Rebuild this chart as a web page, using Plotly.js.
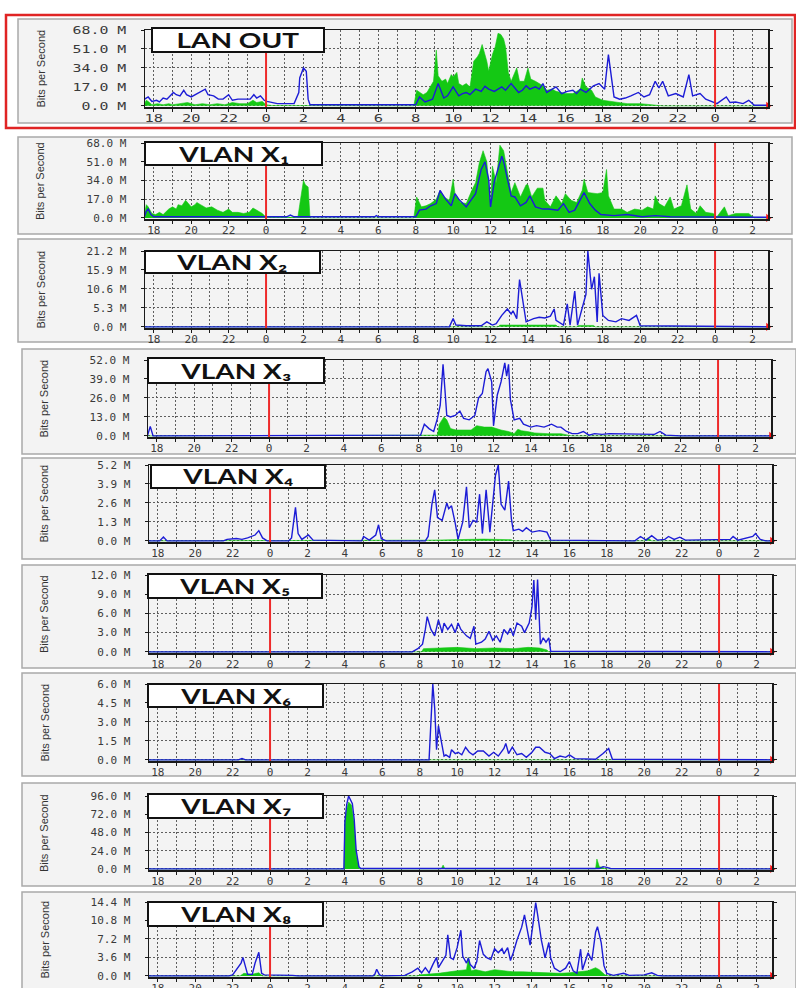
<!DOCTYPE html>
<html><head><meta charset="utf-8">
<script src="https://cdn.plot.ly/plotly-3.0.1.min.js"></script>
<style>html,body{margin:0;padding:0;background:#fff}#chart{width:796px;height:988px}</style>
</head><body><div id="chart"></div>
<script>
// ---------------- DATA ----------------
// time in hours relative to the first midnight (18 -> -6, 0 -> 0, next-day 2 -> 26)
const hourTicks = [-6,-5,-4,-3,-2,-1,0,1,2,3,4,5,6,7,8,9,10,11,12,13,14,15,16,17,18,19,20,21,22,23,24,25,26];
const labelHours = [-6,-4,-2,0,2,4,6,8,10,12,14,16,18,20,22,24,26];
const labelTexts = ['18','20','22','0','2','4','6','8','10','12','14','16','18','20','22','0','2'];
const midnights = [0, 24];
const panelTitles = ['LAN OUT','VLAN X₁','VLAN X₂','VLAN X₃','VLAN X₄','VLAN X₅','VLAN X₆','VLAN X₇','VLAN X₈'];
const yAxisTitle = 'Bits per Second';

const yTicks1 = [0,17,34,51,68],        yLabels1 = ['0.0 M','17.0 M','34.0 M','51.0 M','68.0 M'];
const yTicks2 = [0,17,34,51,68],        yLabels2 = ['0.0 M','17.0 M','34.0 M','51.0 M','68.0 M'];
const yTicks3 = [0,5.3,10.6,15.9,21.2], yLabels3 = ['0.0 M','5.3 M','10.6 M','15.9 M','21.2 M'];
const yTicks4 = [0,13,26,39,52],        yLabels4 = ['0.0 M','13.0 M','26.0 M','39.0 M','52.0 M'];
const yTicks5 = [0,1.3,2.6,3.9,5.2],    yLabels5 = ['0.0 M','1.3 M','2.6 M','3.9 M','5.2 M'];
const yTicks6 = [0,3,6,9,12],           yLabels6 = ['0.0 M','3.0 M','6.0 M','9.0 M','12.0 M'];
const yTicks7 = [0,1.5,3,4.5,6],        yLabels7 = ['0.0 M','1.5 M','3.0 M','4.5 M','6.0 M'];
const yTicks8 = [0,24,48,72,96],        yLabels8 = ['0.0 M','24.0 M','48.0 M','72.0 M','96.0 M'];
const yTicks9 = [0,3.6,7.2,10.8,14.4],  yLabels9 = ['0.0 M','3.6 M','7.2 M','10.8 M','14.4 M'];

// [hour, Mbit/s] — green = incoming, blue = outgoing
const lanOutIn = [[-6.5,2],[-6.4,5],[-6.3,4],[-6.1,1],[-5.8,2],[-5.5,1],[-5.2,2],[-5.0,1],[-4.6,2],[-4.2,3],[-3.8,1],[-3.4,2],[-3.0,1],[-2.6,2],[-2.2,1],[-1.8,3],[-1.4,2],[-1.0,2],[-0.7,5],[-0.5,3],[-0.2,4],[0,1],[0.3,0.3],[1.5,0.3],[2.0,0.5],[2.5,0],[7.9,0],[8.05,14],[8.2,12],[8.4,10],[8.6,12],[8.8,18],[8.95,22],[9.1,50],[9.2,27],[9.4,22],[9.6,24],[9.7,20],[9.9,28],[10.0,26],[10.2,30],[10.3,20],[10.5,18],[10.7,20],[10.9,17],[11.0,28],[11.1,40],[11.3,44],[11.4,47],[11.55,55],[11.7,46],[11.8,40],[11.9,31],[12.0,38],[12.1,46],[12.25,53],[12.4,65],[12.55,64],[12.7,60],[12.8,53],[12.95,30],[13.1,22],[13.3,30],[13.4,34],[13.55,22],[13.8,22],[14.0,34],[14.15,24],[14.4,22],[14.6,20],[14.8,18],[15.0,14],[15.3,15],[15.5,13],[15.7,12],[16.0,11],[16.4,11],[16.7,14],[16.8,15],[16.9,25],[17.0,20],[17.1,17],[17.4,14],[17.6,8],[18.0,5],[18.6,3.5],[19.3,2],[20.0,2],[20.8,1],[21.2,0],[26.9,0]];
const lanOutOut = [[-6.5,6],[-6.3,8],[-6.1,4],[-5.85,5],[-5.7,3.5],[-5.5,7],[-5.3,6],[-4.95,12],[-4.8,10],[-4.6,9],[-4.4,14],[-4.25,10],[-4.0,8],[-3.7,11],[-3.45,13],[-3.25,15],[-3.1,10],[-2.8,9],[-2.55,6],[-2.3,6],[-2.0,10],[-1.8,5],[-1.5,6],[-1.1,6],[-0.85,6],[-0.65,10],[-0.5,7],[-0.3,9],[-0.1,5],[0.05,4],[0.6,2],[1.1,2],[1.5,2],[1.75,12],[1.8,25],[2.0,34],[2.15,31],[2.25,6],[2.35,1],[7.9,1],[8.0,1],[8.2,8],[8.5,3.5],[8.9,6],[9.2,20],[9.5,7],[9.7,9],[10.0,17],[10.3,9],[10.5,11],[10.7,12],[10.9,10],[11.2,15],[11.5,13],[11.7,17.5],[11.9,15],[12.2,13],[12.4,15],[12.6,17],[12.8,14],[13.1,20],[13.3,16],[13.5,12],[13.7,14],[13.9,18],[14.1,15],[14.4,17],[14.6,15],[14.8,20],[15.0,12],[15.2,14],[15.5,17],[15.8,11],[16.1,13],[16.4,14],[16.6,11],[16.8,15],[17.1,12],[17.3,15],[17.5,18],[17.8,20],[18.1,15],[18.3,46],[18.4,34],[18.6,8],[18.9,6],[19.2,7],[19.5,9],[19.9,12],[20.2,8],[20.5,10],[20.8,22],[21.0,16],[21.2,22],[21.5,9],[21.9,11],[22.3,8],[22.6,28],[22.8,9],[23.2,11],[23.5,6],[23.8,4],[24.1,2],[24.6,8],[24.8,3],[25.1,3.5],[25.5,2],[25.8,5],[26.1,0.5],[26.9,0.5]];

const x1In = [[-6.5,3],[-6.4,12],[-6.3,10],[-6.1,4],[-5.9,3],[-5.7,5],[-5.5,3],[-5.2,8],[-5.0,10],[-4.8,8],[-4.7,12],[-4.5,11],[-4.3,16],[-4.1,12],[-4.0,10],[-3.8,12],[-3.7,14],[-3.5,12],[-3.3,10],[-3.2,9],[-2.9,10],[-2.6,7],[-2.3,5],[-2.0,8],[-1.8,5],[-1.5,5],[-1.2,4],[-0.9,5],[-0.7,9],[-0.5,7],[-0.2,4],[0,0.5],[1.7,0.5],[1.8,12],[1.9,25],[2.0,34],[2.1,30],[2.25,28],[2.35,0],[7.9,0],[8.05,19],[8.3,10],[8.55,11],[8.8,13],[9.1,17],[9.3,25],[9.5,19],[9.8,16],[10.0,35],[10.1,22],[10.4,14],[10.7,13],[11.0,25],[11.2,32],[11.4,50],[11.6,61],[11.8,51],[11.95,20],[12.0,10],[12.1,47],[12.3,32],[12.5,66],[12.7,61],[12.9,42],[13.1,23],[13.3,32],[13.6,19],[13.9,30],[14.0,30],[14.2,19],[14.5,27],[14.8,27],[14.9,16],[15.2,10],[15.5,20],[15.8,13],[16.0,22],[16.3,16],[16.6,14],[16.9,25],[17.0,35],[17.2,23],[17.5,22],[17.7,22],[18.0,23],[18.2,44],[18.3,20],[18.6,8],[19.0,8],[19.3,5],[19.7,8],[20.1,7],[20.4,10],[20.7,8],[20.8,20],[21.0,13],[21.3,10],[21.6,19],[21.8,8],[22.2,11],[22.5,30],[22.7,8],[23.0,4],[23.2,11],[23.5,5],[23.9,4],[24.1,1],[24.5,10],[24.7,2],[25.1,4],[25.8,4],[26.1,0],[26.9,0]];
const x1Out = [[-6.5,1],[-6.4,6],[-6.3,8],[-6.15,3],[-6.0,1],[1.1,1],[1.3,2.5],[1.5,1],[2.0,1],[5.8,1],[5.9,2],[6.0,1],[8.0,1],[8.2,7],[8.55,8],[8.8,11],[9.1,13],[9.3,25],[9.6,17],[9.9,11],[10.1,22],[10.3,17],[10.7,10],[11.0,17],[11.2,22],[11.5,44],[11.7,51],[11.9,35],[12.0,10],[12.2,33],[12.4,44],[12.6,56],[12.7,51],[12.9,35],[13.1,20],[13.3,19],[13.6,11],[13.9,14],[14.1,20],[14.4,10],[14.8,8],[15.1,8],[15.6,7],[15.9,13],[16.2,5],[16.5,7],[16.9,20],[17.0,23],[17.3,13],[17.6,7],[17.9,3],[18.6,2],[19.3,3],[20.1,1],[20.8,2],[21.6,1],[26.9,0.5]];

const x2In = [[-6.5,0],[12.4,0],[12.5,0.5],[15.5,0.5],[15.6,0],[16.6,0],[16.7,0.4],[17.5,0.4],[17.6,0],[26.9,0]];
const x2Out = [[-6.5,0],[9.8,0],[10.0,2.3],[10.15,0.5],[10.7,0.3],[11.5,0.3],[11.8,1.4],[12.1,0.5],[12.3,0.9],[12.6,3.2],[12.9,5],[13.1,3.6],[13.2,4.5],[13.4,2.3],[13.55,13.2],[13.7,8.6],[13.9,1.4],[14.3,2.3],[14.6,2.7],[14.9,2.5],[15.2,3],[15.4,5],[15.5,1.8],[15.9,0.5],[16.1,6.4],[16.25,0.5],[16.5,10],[16.65,0.5],[16.9,5.5],[17.1,9.1],[17.2,21.2],[17.25,18],[17.3,15.5],[17.35,12],[17.4,10.5],[17.55,14],[17.7,1.4],[17.8,15],[18.0,3.2],[18.3,1.8],[18.7,1.4],[19.0,2.3],[19.4,1.8],[19.8,3.2],[20.0,0.3],[26.9,0]];

const x3In = [[-6.5,0],[8.9,0],[9.0,0.5],[9.1,8],[9.35,13],[9.5,11],[9.7,5],[10.0,4],[10.4,4],[10.8,4],[11.1,7],[11.5,6],[11.9,6],[12.1,5],[12.4,4],[12.8,3],[13.1,1.5],[13.3,4.5],[13.5,3.5],[13.8,3],[14.2,2],[14.9,1.5],[15.6,1.5],[16.0,0.5],[16.2,0],[26.9,0]];
const x3Out = [[-6.5,0],[-6.35,6.5],[-6.2,0],[8.0,0],[8.1,0.5],[8.3,8],[8.55,5],[8.8,3],[9.0,12],[9.15,21],[9.3,49],[9.4,32],[9.5,14],[9.7,13],[9.95,14],[10.2,17],[10.4,12],[10.7,11],[10.9,13],[11.0,14],[11.2,26],[11.4,29],[11.6,44],[11.7,46],[11.9,37],[12.0,7],[12.2,28],[12.4,37],[12.6,50],[12.7,41],[12.8,49],[12.9,25],[13.1,11],[13.4,12],[13.6,8],[14.0,6],[14.3,7],[14.7,6],[15.1,8],[15.4,6],[15.6,6],[15.9,3],[16.2,1.5],[16.5,1.5],[16.8,3],[17.1,0.5],[17.4,1.5],[17.8,1],[18.2,1.5],[18.7,1.5],[19.2,1],[19.9,1],[20.6,1],[20.9,3],[21.2,0.5],[22,0],[26.9,0]];

const x4In = [[-6.5,0],[8.5,0],[8.6,0.05],[11.4,0.12],[12.9,0.08],[13.0,0],[20.0,0],[20.2,0.2],[20.4,0],[26.9,0]];
const x4Out = [[-6.5,0],[-5.9,0],[-5.7,0.27],[-5.5,0],[-2.5,0],[-2.3,0.1],[-1.8,0.16],[-1.5,0.1],[-1.2,0.2],[-0.8,0.4],[-0.6,0.7],[-0.4,0.2],[-0.15,0],[1.0,0],[1.15,0.2],[1.36,2.3],[1.5,0.5],[1.7,0.1],[2.05,0.4],[2.3,0.05],[4.9,0],[5.0,0.3],[5.3,0.05],[5.65,0.4],[5.8,1.1],[5.95,0.15],[6.2,0],[8.3,0],[8.45,0.3],[8.65,2.5],[8.8,3.5],[8.95,1.6],[9.2,1.4],[9.45,2.6],[9.55,2.2],[9.7,2.4],[9.9,1.2],[10.05,0.1],[10.3,1.3],[10.5,3.7],[10.65,0.9],[10.85,1.4],[11.05,1.3],[11.2,3.2],[11.35,0.5],[11.55,3.5],[11.75,0.6],[12.05,4.5],[12.2,5.2],[12.35,2.5],[12.55,2.1],[12.75,4.1],[12.9,1.5],[13.0,0.7],[13.3,0.8],[13.5,0.65],[13.7,0.9],[14.0,0.6],[14.4,0.7],[14.8,0.6],[15.0,0.05],[19.5,0],[19.8,0.3],[20.1,0.05],[20.4,0.35],[20.7,0.05],[21.1,0.1],[21.3,0.3],[21.6,0.1],[21.9,0.25],[22.2,0.05],[23.5,0.1],[24.6,0.1],[24.75,0.3],[25.0,0.05],[25.8,0.3],[25.95,0.5],[26.2,0.1],[26.5,0],[26.9,0]];

const x5In = [[-6.5,0],[8.1,0],[8.2,0.5],[9,0.6],[10,0.7],[11,0.5],[12,0.6],[13,0.5],[13.8,0.7],[14.4,0.6],[14.8,0.3],[14.9,0],[26.9,0]];
const x5Out = [[-6.5,0],[7.6,0],[7.9,0.5],[8.15,1.2],[8.3,3.5],[8.4,5.5],[8.6,3.5],[8.8,2.5],[9.0,5.0],[9.2,3],[9.3,4.5],[9.5,3.5],[9.7,4.3],[9.9,3],[10.05,4.5],[10.2,3.5],[10.5,2.5],[10.7,2.1],[10.9,4.0],[11.0,1.2],[11.3,1.5],[11.5,2],[11.7,3.2],[11.9,1.8],[12.1,2.5],[12.3,1.5],[12.5,3.5],[12.7,2.8],[12.85,3.7],[13.0,2.5],[13.2,4.5],[13.45,4],[13.6,3],[13.85,4.5],[14.0,7],[14.1,11.2],[14.2,5],[14.3,11.3],[14.45,1.2],[14.6,2.2],[14.75,1.5],[14.9,2.2],[15.0,0.1],[26.9,0]];

const x6In = [[-6.5,0],[9.2,0],[9.3,0.05],[18.2,0.05],[18.3,0],[26.9,0]];
const x6Out = [[-6.5,0],[-1.7,0],[-1.5,0.1],[-1.3,0],[8.5,0],[8.6,3.1],[8.7,6.0],[8.8,4.1],[8.9,0.8],[9.0,2.7],[9.1,1.8],[9.3,0.3],[9.4,0.4],[9.6,0.2],[9.7,0.8],[9.9,0.5],[10.05,0.6],[10.25,0.4],[10.45,1.0],[10.65,0.6],[10.85,0.4],[11.1,0.7],[11.4,0.7],[11.7,0.3],[11.95,0.6],[12.2,0.3],[12.5,0.9],[12.6,1.3],[12.75,0.5],[12.95,1.0],[13.2,0.4],[13.45,0.5],[13.7,0.2],[14.0,0.6],[14.2,1.0],[14.4,1.0],[14.7,0.6],[14.95,0.5],[15.2,0.1],[15.5,0.3],[15.8,0.2],[16.0,0.4],[16.3,0.1],[16.7,0.1],[17.4,0.05],[17.8,0.5],[18.1,0.9],[18.3,0.05],[26.9,0]];

const x7In = [[-6.5,0],[3.95,0],[4.0,60],[4.1,79],[4.2,88],[4.35,84],[4.5,60],[4.6,20],[4.75,2],[4.8,0],[9.15,0],[9.25,5],[9.35,0],[17.4,0],[17.47,13],[17.6,3],[17.8,2],[17.9,0],[26.9,0]];
const x7Out = [[-6.5,0],[3.95,0],[4.0,62],[4.1,85],[4.2,96],[4.4,86],[4.5,65],[4.6,25],[4.75,3],[4.85,0.5],[17.6,0.5],[17.8,3],[18.0,2],[18.2,0.5],[26.9,0]];

const x8In = [[-6.5,0],[-1.6,0],[-1.4,0.5],[-1.0,0.3],[-0.6,0.6],[-0.4,0],[7.9,0],[8.0,0.2],[9.0,0.5],[9.5,0.8],[10.0,1.0],[10.5,1.2],[10.6,3.6],[10.75,1.0],[11.0,1.2],[11.5,0.8],[12.0,1.2],[12.5,1.0],[13.0,0.8],[13.5,0.8],[14.0,0.7],[14.5,0.7],[15.0,0.6],[15.5,0.5],[16.0,0.6],[16.5,0.8],[17.0,1.0],[17.4,1.6],[17.6,1.2],[17.9,0.2],[18.1,0],[26.9,0]];
const x8Out = [[-6.5,0],[-2.2,0],[-2.0,0.2],[-1.75,1.5],[-1.55,2.5],[-1.45,3.6],[-1.3,1.8],[-1.2,0.3],[-0.95,0.3],[-0.8,2.5],[-0.6,4.6],[-0.45,0.5],[-0.3,0.2],[0.7,0.2],[1.2,0.1],[1.5,0],[5.5,0],[5.6,0.3],[5.7,1.3],[5.85,0.2],[6.0,0],[7.2,0.1],[7.6,0.8],[7.9,1.5],[8.1,0.6],[8.3,1.6],[8.5,0.6],[8.7,2.2],[8.9,3.6],[9.0,1.6],[9.2,2.8],[9.4,4.0],[9.5,8.0],[9.65,3.5],[9.8,3.2],[10.0,5.5],[10.2,8.9],[10.3,3.8],[10.5,2.5],[10.6,3.5],[10.7,2.2],[10.9,1.5],[11.05,2.8],[11.2,6.9],[11.4,4.2],[11.6,3.5],[11.8,3.2],[12.0,5.3],[12.2,4.5],[12.4,5.3],[12.5,4.3],[12.7,5.5],[12.85,3.0],[13.0,4.5],[13.2,7.0],[13.45,9.5],[13.6,11.9],[13.7,10.0],[13.9,6],[14.05,10],[14.2,14.3],[14.3,12],[14.5,7.0],[14.7,3.5],[14.9,6.5],[15.0,3.5],[15.2,1.5],[15.5,0.8],[15.8,1.5],[16.0,2.8],[16.2,1.0],[16.4,0.5],[16.6,5.2],[16.7,1.2],[17.0,4.5],[17.2,3.0],[17.4,8.5],[17.5,9.6],[17.7,6.5],[17.85,2],[18.0,0.5],[18.35,0.1],[18.9,0.5],[19.2,0.1],[20.0,0.2],[20.4,0.6],[20.7,0.1],[21,0],[26.9,0]];

// ---------------- LAYOUT (pixel geometry) ----------------
const W = 796, H = 988;
const X_RANGE = [-6.47, 26.83];
// [plotL, plotR, plotT, plotB, bgL, bgR, bgT, bgB, boxL, boxR, boxT, boxB, yTitleX]
const geom = [
  [145,768, 30,107, 18,792, 19,123, 152,324, 28, 52, 40],
  [145,768,143,219, 18,792,137,234, 145,322,142,165, 40],
  [145,768,251,328, 18,792,239,342, 145,320,251,273, 40],
  [148,771,360,437, 22,796,349,454, 148,324,358,383, 44],
  [149,772,465,542, 22,796,458,559, 151,325,465,488, 44],
  [149,772,575,653, 22,796,565,668, 148,322,574,598, 44],
  [149,772,684,761, 22,796,673,776, 148,323,684,707, 44],
  [149,772,796,870, 22,796,783,886, 148,323,794,818, 44],
  [149,772,902,977, 22,796,892,996, 148,323,902,926, 44]
];
const series = [[lanOutIn,lanOutOut],[x1In,x1Out],[x2In,x2Out],[x3In,x3Out],[x4In,x4Out],[x5In,x5Out],[x6In,x6Out],[x7In,x7Out],[x8In,x8Out]];
const yT = [yTicks1,yTicks2,yTicks3,yTicks4,yTicks5,yTicks6,yTicks7,yTicks8,yTicks9];
const yL = [yLabels1,yLabels2,yLabels3,yLabels4,yLabels5,yLabels6,yLabels7,yLabels8,yLabels9];

const GREEN = '#14c814', BLUE = '#1c1cd6', RED = '#ee2a2a';
const px = v => v / W, py = v => 1 - v / H;
const tickFont = {family:'DejaVu Sans Mono, monospace', size:11, color:'#3a3a3a'};
const gridStyle = {showgrid:true, gridcolor:'#5e5e5e', griddash:'2px,2px', gridwidth:1};

const data = [], shapes = [], annotations = [];
const layout = {width:W, height:H, margin:{l:0,r:0,t:0,b:0}, paper_bgcolor:'#ffffff', plot_bgcolor:'rgba(0,0,0,0)', showlegend:false};

// red frame around the first panel
shapes.push({type:'rect', xref:'paper', yref:'paper', x0:px(6), x1:px(795), y0:py(15), y1:py(128), line:{color:'#e02424', width:2.5}, layer:'below'});

geom.forEach((g, i) => {
  const k = i === 0 ? '' : String(i + 1);
  const [pl,pr,pt,pb,bl,br,bt,bb,xl,xr,xt,xb,ytx] = g;
  const ymax = yT[i][yT[i].length - 1];
  shapes.push({type:'rect', xref:'paper', yref:'paper', x0:px(bl), x1:px(br), y0:py(bb), y1:py(bt), fillcolor:'#f3f3f3', line:{color:'#a9a9a9', width:1.5}, layer:'below'});
  layout['xaxis' + k] = Object.assign({domain:[px(pl), px(pr)], anchor:'y' + k, range:X_RANGE, tickmode:'array', tickvals:labelHours, ticktext:labelTexts,
    zeroline:false, showline:true, linecolor:'#1a1a1a', linewidth:1.5, mirror:true,
    ticks:'outside', ticklen:3, tickcolor:'#1a1a1a', ticklabelstandoff:-3, tickfont:tickFont, fixedrange:true,
    minor:Object.assign({tickmode:'array', tickvals:hourTicks, ticks:'outside', ticklen:3, tickcolor:'#1a1a1a'}, gridStyle)}, gridStyle);
  layout['yaxis' + k] = Object.assign({domain:[py(pb), py(pt)], anchor:'x' + k, range:[-0.015 * ymax, ymax], tickmode:'array', tickvals:yT[i], ticktext:yL[i],
    zeroline:false, showline:true, linecolor:'#1a1a1a', linewidth:1.5, mirror:'allticks',
    ticks:'outside', ticklen:3, tickcolor:'#1a1a1a', ticklabelstandoff:12, tickfont:tickFont, fixedrange:true}, gridStyle);
  const [sin, sout] = series[i];
  data.push({type:'scatter', mode:'lines', xaxis:'x' + k, yaxis:'y' + k, x:sin.map(p => p[0]), y:sin.map(p => p[1]),
    fill:'tozeroy', fillcolor:GREEN, line:{color:GREEN, width:0.6}, hoverinfo:'skip'});
  data.push({type:'scatter', mode:'lines', xaxis:'x' + k, yaxis:'y' + k, x:sout.map(p => p[0]), y:sout.map(p => p[1]),
    line:{color:BLUE, width:1.4}, hoverinfo:'skip'});
  data.push({type:'scatter', mode:'markers', xaxis:'x' + k, yaxis:'y' + k, x:[X_RANGE[1]], y:[0], cliponaxis:false,
    marker:{symbol:'triangle-right', size:7, color:'#ff1010'}, hoverinfo:'skip'});
  midnights.forEach(m => shapes.push({type:'line', xref:'x' + k, yref:'y' + k + ' domain', x0:m, x1:m, y0:0, y1:1, line:{color:RED, width:2}, layer:'above'}));
  shapes.push({type:'rect', xref:'paper', yref:'paper', x0:px(xl), x1:px(xr), y0:py(xb), y1:py(xt), fillcolor:'#ffffff', line:{color:'#111111', width:2}, layer:'above'});
  annotations.push({xref:'paper', yref:'paper', x:px((xl + xr) / 2), y:py((xt + xb) / 2), xanchor:'center', yanchor:'middle', showarrow:false,
    text:panelTitles[i], font:{family:"Lato, 'Noto Sans', 'DejaVu Sans', sans-serif", size:20, weight:'bold', color:'#111'}});
  annotations.push({xref:'paper', yref:'paper', x:px(ytx), y:py((pt + pb) / 2), xanchor:'center', yanchor:'middle', showarrow:false, textangle:-90,
    text:yAxisTitle, font:{family:'Liberation Sans, Arial, sans-serif', size:11, color:'#333'}});
});
layout.shapes = shapes;
layout.annotations = annotations;

// widen glyphs horizontally to match the stretched look of the original screenshots
function stretchTexts(gd) {
  const widen = (t, f) => {
    const w = t.getComputedTextLength();
    if (w > 0) { t.setAttribute('textLength', (w * f).toFixed(1)); t.setAttribute('lengthAdjust', 'spacingAndGlyphs'); }
  };
  gd.querySelectorAll('.xtick text').forEach(t => widen(t, 1.4));
  gd.querySelectorAll('.ytick text').forEach(t => widen(t, 1.35));
  gd.querySelectorAll('.annotation-text').forEach(t => { if (t.textContent !== yAxisTitle) widen(t, 1.4); });
}
Plotly.newPlot('chart', data, layout, {staticPlot:true, displayModeBar:false}).then(stretchTexts);
</script>
</body></html>
